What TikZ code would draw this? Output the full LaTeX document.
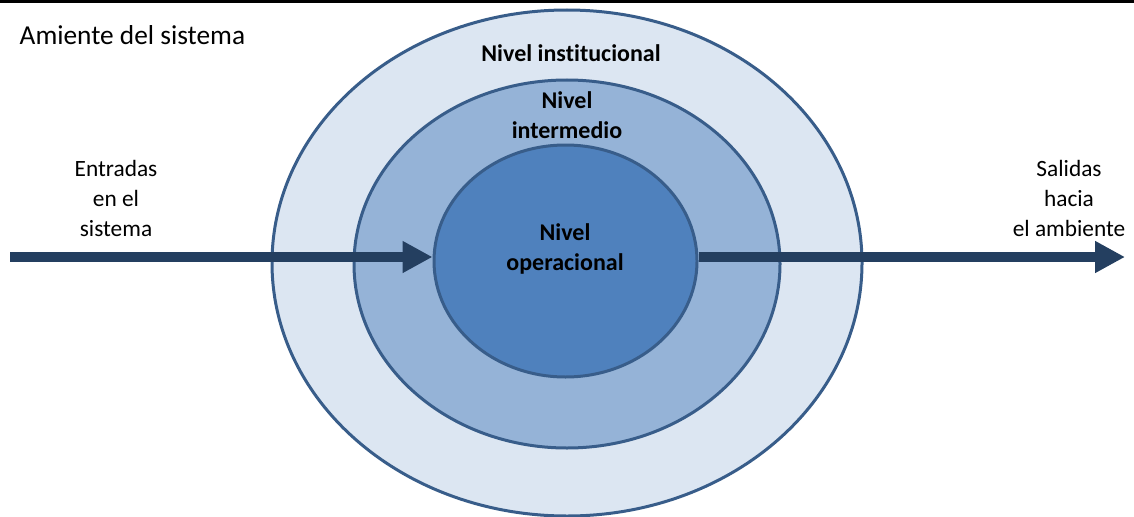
\documentclass[tikz,border=0pt]{standalone}
\usepackage{fontspec}
\setmainfont{Carlito}[Ligatures=NoCommon]
\usepackage{tikz}
\usetikzlibrary{positioning,arrows.meta,shapes.geometric}
\definecolor{rimblue}{RGB}{56,93,138}
\definecolor{paleblue}{RGB}{220,230,242}
\definecolor{midblue}{RGB}{149,179,215}
\definecolor{coreblue}{RGB}{79,129,189}
\definecolor{navy}{RGB}{36,63,96}

\begin{document}
\begin{tikzpicture}[
  x=0.75pt,y=-0.75pt,
  level/.style={ellipse,draw=rimblue,line width=2.25pt,inner sep=0pt},
  lbl/.style={align=center,font=\fontsize{17.5}{22.5}\selectfont},
  lvl/.style={align=center,font=\fontsize{18}{22.5}\selectfont\bfseries},
  flow/.style={draw=navy,line width=7.5pt,-{Triangle[length=22.5pt,width=22.5pt]}}
]
\useasboundingbox (0,0) rectangle (1134,517);
\draw[line width=2.25pt] (0,1.5) -- (1134,1.5);

\node[level,fill=paleblue,minimum width=442.5pt,minimum height=379.5pt] (outer) at (567,263) {};
\node[level,fill=midblue,minimum width=319.5pt,minimum height=276pt] (middle) at (567,264) {};
\node[level,fill=coreblue,minimum width=197.25pt,minimum height=174pt] (inner) at (565.5,261) {};

\node[anchor=base west,font=\fontsize{20.5}{24}\selectfont] (env) at (15,45) {Amiente del sistema};
\node[lvl] (inst) at (571,53) {Nivel institucional};
\node[lvl] (inter) at (567,115) {Nivel\\intermedio};
\node[lvl] (oper) at (565,249) {Nivel\\operacional};
\node[lbl] (inlbl) at (116,198) {Entradas\\en el\\sistema};
\node[lbl] (outlbl) at (1069,198) {Salidas\\hacia\\el ambiente};

\coordinate (src) at (10,257);
\coordinate (dst) at (1125,257);
\draw[flow] (src) -- (src -| inner.west);
\draw[flow] (dst -| inner.east) -- (dst);
\end{tikzpicture}
\end{document}
